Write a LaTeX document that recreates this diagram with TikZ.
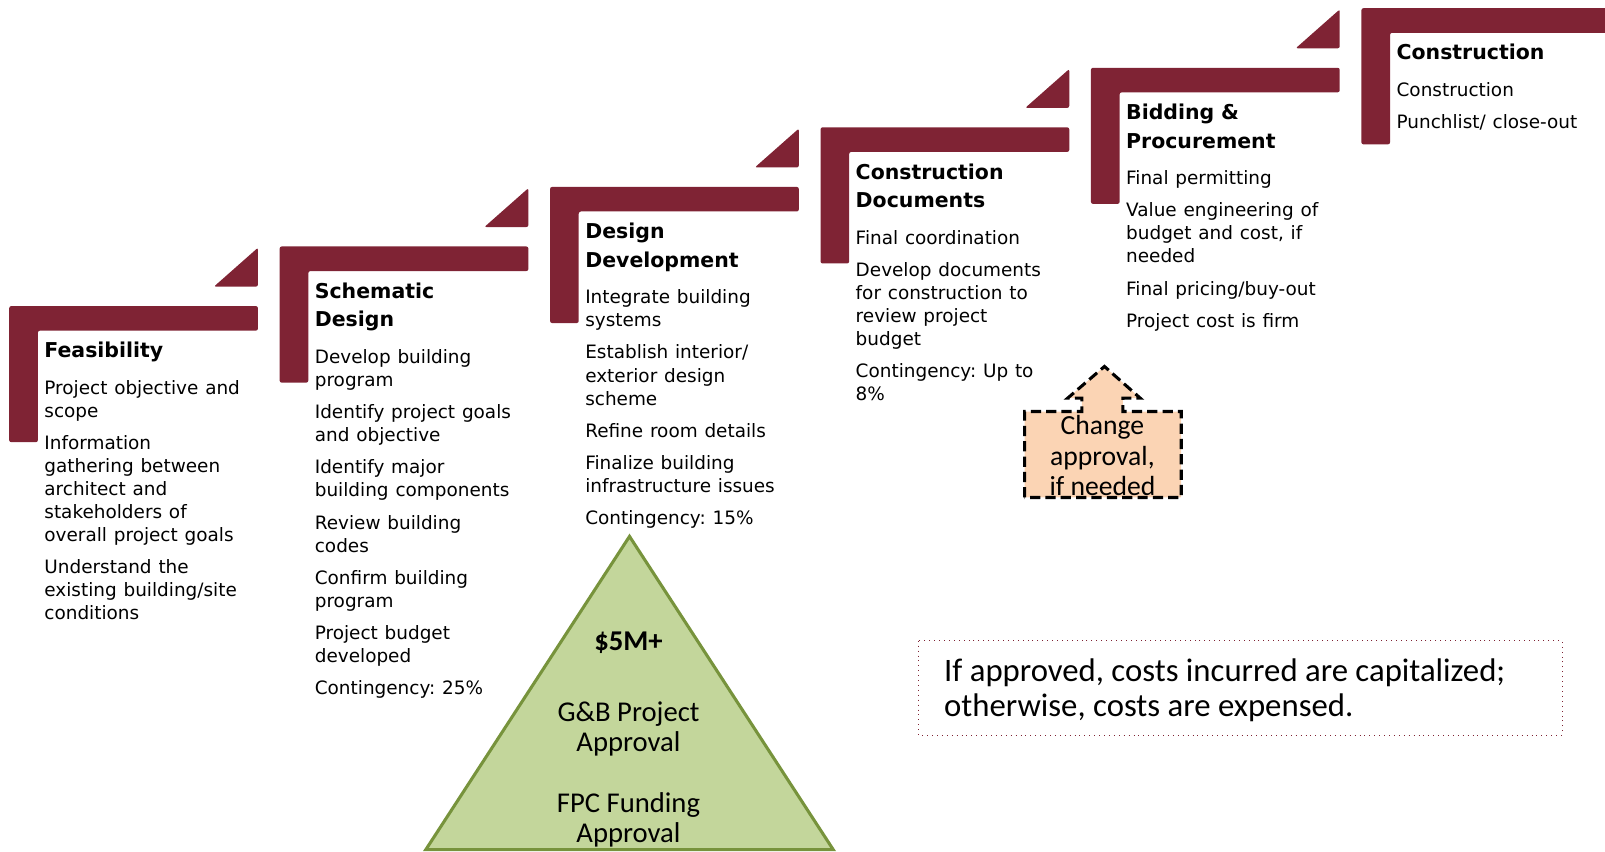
\documentclass[tikz,border=0pt]{standalone}
\usepackage{fontspec}
\newfontfamily\stagefont{DejaVu Sans}
\newfontfamily\califont{Carlito}
\setlength{\parindent}{0pt}
\setlength{\parskip}{0pt}
\frenchspacing
\definecolor{maroon}{RGB}{127,35,52}
\definecolor{leafgreen}{RGB}{195,214,155}
\definecolor{leafedge}{RGB}{119,147,60}
\definecolor{peach}{RGB}{251,212,180}

% stage heading and stage items
\newcommand{\sttl}[1]{{\fontsize{10pt}{14pt}\selectfont\bfseries #1\par}}
\newcommand{\sfirst}[1]{\vspace{6.5pt}{\fontsize{9pt}{11.25pt}\selectfont #1\par}}
\newcommand{\sitm}[1]{\vspace{4.5pt}{\fontsize{9pt}{11.25pt}\selectfont #1\par}}

\tikzset{
  stagebar/.style={fill=maroon, rounded corners=1pt},
  stagetext/.style={anchor=north west, inner sep=0pt, text width=122pt, align=left, font=\stagefont},
  calitext/.style={inner sep=0pt, align=center, font=\califont},
}

\begin{document}
\begin{tikzpicture}[x=0.5pt,y=-0.5pt]
\useasboundingbox (0,0) rectangle (1568,832);
\clip (0,0) rectangle (1568,832);

% L-shaped step brackets
\foreach \i in {0,...,5}{
  \pgfmathsetmacro{\bx}{9+264.2*\i}
  \pgfmathsetmacro{\by}{299-58.2*\i}
  \fill[stagebar] (\bx,\by) -- ++(243,0) -- ++(0,24) -- ++(-215,0) -- ++(0,109) -- ++(-28,0) -- cycle;
}
% small rising wedges between the steps
\foreach \i in {0,...,4}{
  \pgfmathsetmacro{\bx}{9+264.2*\i}
  \pgfmathsetmacro{\by}{299-58.2*\i}
  \fill[stagebar] ({\bx+200},{\by-19}) -- ({\bx+243},{\by-19}) -- ({\bx+243},{\by-57}) -- cycle;
}

% stage texts
\node[stagetext] (s0) at (43,334) {%
  \sttl{Feasibility}
  \sfirst{Project objective and\\scope}
  \sitm{Information\\gathering between\\architect and\\stakeholders of\\overall project goals}
  \sitm{Understand the\\existing building/site\\conditions}};

\node[stagetext] (s1) at (307.2,275.8) {%
  \sttl{Schematic\\Design}
  \sfirst{Develop building\\program}
  \sitm{Identify project goals\\and objective}
  \sitm{Identify major\\building components}
  \sitm{Review building\\codes}
  \sitm{Confirm building\\program}
  \sitm{Project budget\\developed}
  \sitm{Contingency: 25\%}};

\node[stagetext] (s2) at (571.4,217.6) {%
  \sttl{Design\\Development}
  \sfirst{Integrate building\\systems}
  \sitm{Establish interior/\\exterior design\\scheme}
  \sitm{Refine room details}
  \sitm{Finalize building\\infrastructure issues}
  \sitm{Contingency: 15\%}};

\node[stagetext] (s3) at (835.6,159.4) {%
  \sttl{Construction\\Documents}
  \sfirst{Final coordination}
  \sitm{Develop documents\\for construction to\\review project\\budget}
  \sitm{Contingency: Up to\\8\%}};

\node[stagetext] (s4) at (1099.8,101.2) {%
  \sttl{Bidding \&\\Procurement}
  \sfirst{Final permitting}
  \sitm{Value engineering of\\budget and cost, if\\needed}
  \sitm{Final pricing/buy-out}
  \sitm{Project cost is firm}};

\node[stagetext] (s5) at (1364,43) {%
  \sttl{Construction}
  \sfirst{Construction}
  \sitm{Punchlist/ close-out}};

% approval pyramid
\filldraw[fill=leafgreen, draw=leafedge, line width=1.5pt, line join=miter]
  (416,830) -- (615,524) -- (814,830) -- cycle;
\node[calitext, font=\califont\fontsize{14pt}{14.5pt}\selectfont\bfseries] (amt) at (614,627.5) {\$5M+};
\node[calitext, font=\califont\fontsize{14pt}{14.5pt}\selectfont] (gb) at (614,712) {G\&B Project\\Approval};
\node[calitext, font=\califont\fontsize{14pt}{14.5pt}\selectfont] (fpc) at (614,801) {FPC Funding\\Approval};

% change approval callout
\filldraw[fill=peach, draw=black, line width=1.5pt, dash pattern=on 5pt off 2.5pt]
  (1001,486) -- (1001,402) -- (1057,402) -- (1057,389) -- (1043,389) -- (1079,358)
  -- (1114,389) -- (1097,389) -- (1097,402) -- (1154,402) -- (1154,486) -- cycle;
\node[calitext, font=\califont\fontsize{13.5pt}{14.75pt}\selectfont] (chg) at (1077,445) {Change\\approval,\\if needed};

% capitalization note
\draw[maroon, line width=0.4pt, dotted] (897,626) rectangle (1526,718);
\node[calitext, anchor=west, align=left, font=\califont\fontsize{16pt}{17pt}\selectfont] (note) at (922,674.5)
  {If approved, costs incurred are capitalized;\\otherwise, costs are expensed.};
\end{tikzpicture}
\end{document}
